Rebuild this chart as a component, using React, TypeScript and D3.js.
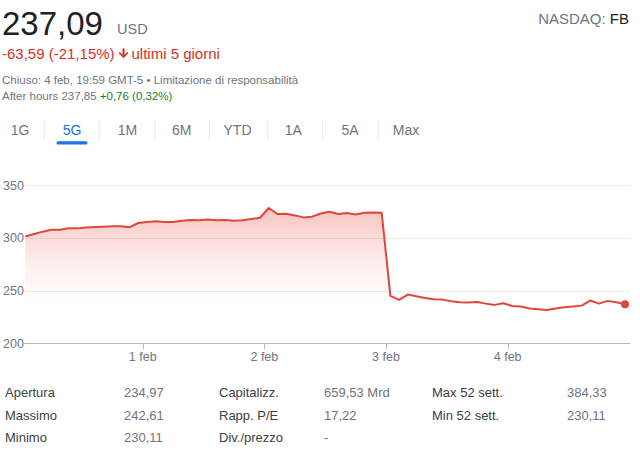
import React from "react";
import * as d3 from "d3";

// ---- data ----
const tickLabels = ["1 feb", "2 feb", "3 feb", "4 feb"];
// 30-min prices, 9:30 → 16:00 (14 per day)
const jan31 = [301.2, 303.5, 305.8, 307.5, 307.6, 309.0, 308.9, 309.8, 310.1, 310.4, 310.8, 311.0, 310.0, 314.0];
const feb1 = [315.0, 315.6, 315.0, 315.0, 316.2, 316.8, 316.5, 317.4, 316.5, 316.8, 316.2, 316.5, 317.7, 319.0];
const feb2 = [328.2, 322.5, 322.8, 321.2, 319.3, 320.0, 323.0, 324.7, 322.5, 323.4, 322.1, 323.7, 324.0, 323.7];
const feb3 = [245.0, 241.1, 246.2, 244.6, 243.0, 241.8, 241.4, 239.9, 238.9, 238.6, 239.2, 237.6, 236.4, 238.0];
const feb4 = [235.4, 234.8, 232.9, 232.3, 231.6, 232.9, 234.2, 234.8, 235.7, 240.5, 237.6, 240.2, 238.9, 237.09];
const days = [jan31, feb1, feb2, feb3, feb4];
const yTicks = [200, 250, 300, 350];

const tabs = ["1G", "5G", "1M", "6M", "YTD", "1A", "5A", "Max"];
const activeTab = "5G";

const statLabels1 = ["Apertura", "Massimo", "Minimo"];
const statValues1 = ["234,97", "242,61", "230,11"];
const statLabels2 = ["Capitalizz.", "Rapp. P/E", "Div./prezzo"];
const statValues2 = ["659,53 Mrd", "17,22", "-"];
const statLabels3 = ["Max 52 sett.", "Min 52 sett."];
const statValues3 = ["384,33", "230,11"];

const FONT = "'Liberation Sans', Arial, sans-serif";
const RED = "#e0463b";
const GRAY = "#70757a";

export default function App() {
  const W = 640, H = 453;
  const perDay = days[0].length;
  const points = days.flatMap((vals, d) => vals.map((v, i) => ({ idx: d * perDay + i, v })));
  const n = points.length;

  const x = d3.scaleLinear().domain([0, n - 1]).range([25.4, 625]);
  const y = d3.scaleLinear().domain([200, 350]).range([343.3, 185]);

  const line = d3.line<any>().x((p) => x(p.idx)).y((p) => y(p.v));
  const area = d3.area<any>().x((p) => x(p.idx)).y0(y(200)).y1((p) => y(p.v));
  const last = points[n - 1];

  const tickIdx = tickLabels.map((_, k) => (k + 1) * perDay - 0.5);

  const tabX = [20, 72, 127.5, 181.7, 237.5, 293.3, 350, 406];
  const sepX = [44.3, 99.3, 155, 209.3, 267.7, 322.7, 378.3];

  const rowY = [397, 419.5, 442];

  return (
    <svg width={W} height={H} style={{ position: "absolute", left: 0, top: 0, background: "#fff" }} fontFamily={FONT}>
      <defs>
        <linearGradient id="fillGrad" gradientUnits="userSpaceOnUse" x1="0" x2="0" y1={y(330)} y2={y(238)}>
          <stop offset="0" stopColor="#ea4335" stopOpacity={0.32} />
          <stop offset="0.55" stopColor="#ea4335" stopOpacity={0.1} />
          <stop offset="1" stopColor="#ea4335" stopOpacity={0} />
        </linearGradient>
      </defs>

      {/* header */}
      <text x={2} y={35} fontSize={33} fill="#202124">237,09</text>
      <text x={117} y={34} fontSize={14.5} fill={GRAY}>USD</text>
      <text x={629} y={24} fontSize={15} fill={GRAY} textAnchor="end">
        NASDAQ: <tspan fill="#202124">FB</tspan>
      </text>
      <text x={2} y={59} fontSize={15} fill="#d93025">-63,59 (-21,15%)</text>
      <path d="M20 12l-1.41-1.41L13 16.17V4h-2v12.17l-5.58-5.59L4 12l8 8 8-8z" fill="#d93025" stroke="#d93025" strokeWidth={1.6} strokeLinejoin="round" transform="translate(116.8,46.5) scale(0.56)" />
      <text x={131.5} y={59} fontSize={15} fill="#d93025">ultimi 5 giorni</text>
      <text x={2} y={84} fontSize={11.5} fill={GRAY}>Chiuso: 4 feb, 19:59 GMT-5 • Limitazione di responsabilità</text>
      <text x={2} y={100} fontSize={11.5} fill={GRAY}>
        After hours 237,85 <tspan fill="#188038">+0,76 (0,32%)</tspan>
      </text>

      {/* tabs */}
      {tabs.map((t, i) => (
        <text key={t} x={tabX[i]} y={135} fontSize={14} textAnchor="middle" fill={t === activeTab ? "#1a73e8" : GRAY}>{t}</text>
      ))}
      {sepX.map((sx, i) => (
        <line key={i} x1={sx} x2={sx} y1={120} y2={140} stroke="#e8eaed" strokeWidth={1} />
      ))}
      <rect x={56.5} y={141.3} width={31} height={3.2} rx={1.6} fill="#1a73e8" />

      {/* grid */}
      {yTicks.map((t) => (
        <g key={t}>
          {t !== 200 && <line x1={25} x2={630} y1={Math.round(y(t)) + 0.5} y2={Math.round(y(t)) + 0.5} stroke="#ececec" />}
          <text x={3} y={y(t) + 4.5} fontSize={12.5} fill={GRAY}>{t}</text>
        </g>
      ))}

      {/* area + line */}
      <path d={area(points) || ""} fill="url(#fillGrad)" />
      <path d={line(points) || ""} fill="none" stroke={RED} strokeWidth={2} strokeLinejoin="round" />
      <circle cx={x(last.idx)} cy={y(last.v)} r={4} fill={RED} />

      {/* x axis */}
      <line x1={24} x2={630} y1={Math.round(y(200)) + 0.5} y2={Math.round(y(200)) + 0.5} stroke="#b4b7bb" />
      {tickIdx.map((ti, k) => (
        <g key={k}>
          <line x1={Math.round(x(ti)) + 0.5} x2={Math.round(x(ti)) + 0.5} y1={343.5} y2={349} stroke="#b4b7bb" />
          <text x={x(ti)} y={361} fontSize={12.5} textAnchor="middle" fill={GRAY}>{tickLabels[k]}</text>
        </g>
      ))}

      {/* stats */}
      {statLabels1.map((l, i) => (
        <g key={"a" + i}>
          <text x={5} y={rowY[i]} fontSize={13} fill="#3c4043">{l}</text>
          <text x={124} y={rowY[i]} fontSize={13} fill={GRAY}>{statValues1[i]}</text>
        </g>
      ))}
      {statLabels2.map((l, i) => (
        <g key={"b" + i}>
          <text x={219} y={rowY[i]} fontSize={13} fill="#3c4043">{l}</text>
          <text x={324} y={rowY[i]} fontSize={13} fill={GRAY}>{statValues2[i]}</text>
        </g>
      ))}
      {statLabels3.map((l, i) => (
        <g key={"c" + i}>
          <text x={432} y={rowY[i]} fontSize={13} fill="#3c4043">{l}</text>
          <text x={567} y={rowY[i]} fontSize={13} fill={GRAY}>{statValues3[i]}</text>
        </g>
      ))}
    </svg>
  );
}
